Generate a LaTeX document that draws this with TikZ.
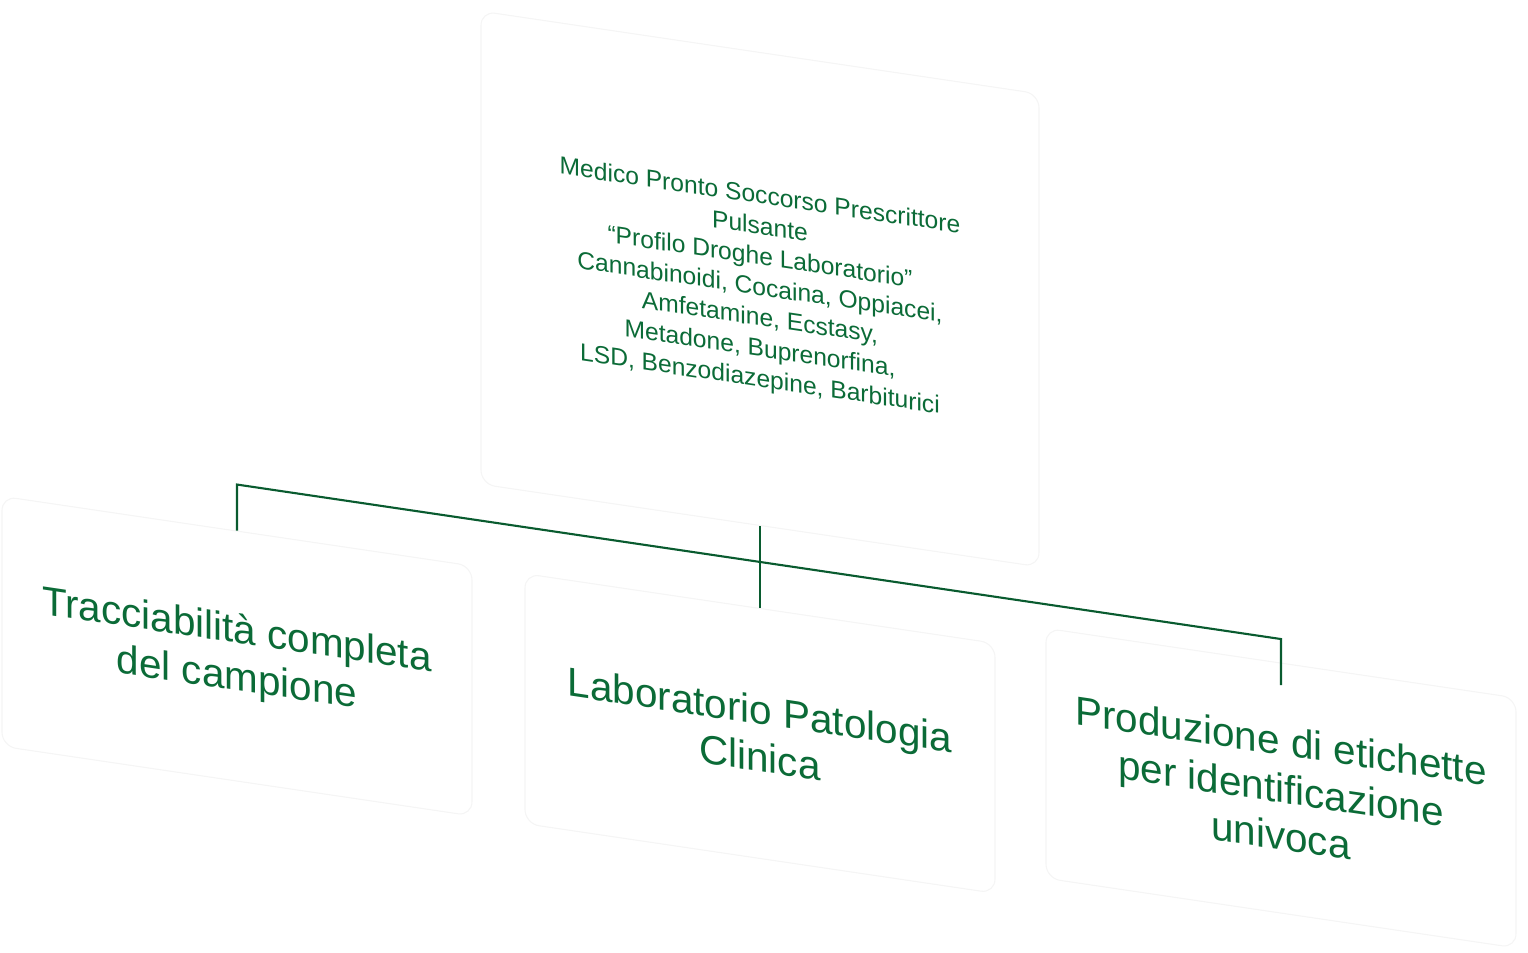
\documentclass[tikz,border=0pt]{standalone}
\usepackage{fontspec}
\setmainfont{Liberation Sans}
\usepackage{tikz}
\usetikzlibrary{positioning}
\definecolor{labgreen}{RGB}{11,107,55}
\tikzset{
  panel/.style={draw=black!4, line width=0.6pt, rounded corners=8pt, fill=white,
    text=labgreen, align=center, inner sep=0pt},
  toppanel/.style={panel, minimum width=11.16cm, minimum height=9.46cm,
    font=\fontsize{14}{17.4}\selectfont},
  childpanel/.style={panel, minimum width=9.4cm, minimum height=5cm,
    font=\fontsize{23}{27}\selectfont},
  link/.style={draw=labgreen!85!black, line width=1.2pt}
}

\begin{document}
\begin{tikzpicture}
    \useasboundingbox (0,0) rectangle (30.56,-19.06);
    \begin{scope}[yslant=-0.148, transform shape]
        \node[toppanel] (medico) at (15.2,-3.53)
            {Medico Pronto Soccorso Prescrittore\\ Pulsante\\
             “Profilo Droghe Laboratorio”\\
             Cannabinoidi, Cocaina, Oppiacei,\\ Amfetamine, Ecstasy,\\
             Metadone, Buprenorfina,\\ LSD, Benzodiazepine, Barbiturici};
        \node[childpanel] (trac) at (4.74,-12.42) {Tracciabilità completa\\ del campione};
        \node[childpanel] (lab) at (15.2,-12.42) {Laboratorio Patologia\\ Clinica};
        \node[childpanel] (etic) at (25.62,-11.97) {Produzione di etichette\\ per identificazione\\ univoca};
        % connectors
        \draw[link] (medico.south) -- (lab.north);
        \draw[link] (trac.north) -- ([yshift=0.92cm]trac.north)
            -- ([yshift=0.47cm]etic.north) -- ([yshift=-0.45cm]etic.north);
    \end{scope}
\end{tikzpicture}
\end{document}
